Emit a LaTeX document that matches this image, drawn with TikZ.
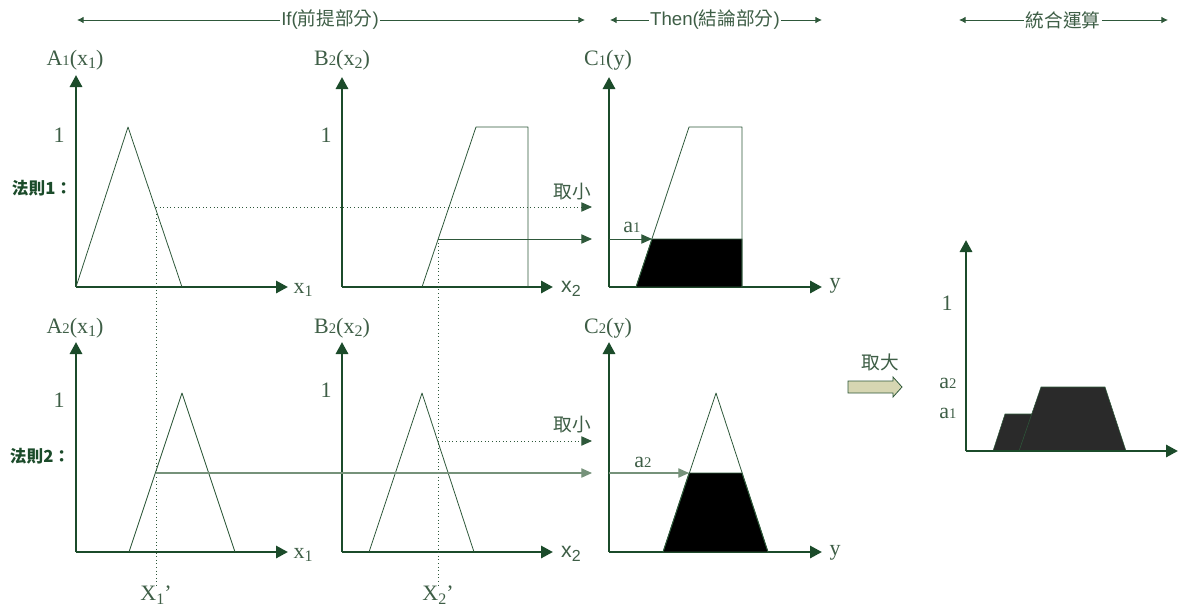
\documentclass[tikz,border=0pt]{standalone}
\usepackage{fontspec}
\setmainfont{Liberation Serif}
\newfontfamily\cjk{Noto Sans CJK TC}
\newfontfamily\arial{Liberation Sans}
\usepackage{tikz}
\usetikzlibrary{arrows.meta,calc}
\definecolor{axisgreen}{RGB}{27,75,42}
\definecolor{txtgreen}{RGB}{62,94,70}
\definecolor{linegreen}{RGB}{46,88,58}
\definecolor{palegreen}{RGB}{118,146,122}
\definecolor{khaki}{RGB}{214,214,178}
\definecolor{darkfill}{RGB}{42,42,42}
\newcommand{\lo}[1]{\raisebox{-.35ex}{\fontsize{12}{12}\selectfont #1}}
\newcommand{\sm}[1]{{\fontsize{11}{11}\selectfont #1}}
\tikzset{
  axis/.style  ={draw=axisgreen, line width=2.2pt, -{Triangle[length=9pt,width=9pt]}},
  mf/.style    ={draw=linegreen, line width=0.6pt, line join=round},
  cut/.style   ={fill=black, draw=linegreen, line width=0.6pt},
  res/.style   ={fill=darkfill, draw=linegreen, line width=0.4pt},
  dotl/.style  ={draw=linegreen, dotted, line width=0.7pt},
  dar/.style   ={dotl, -{Triangle[length=8pt,width=7pt]}},
  ar/.style    ={draw=linegreen, line width=0.7pt, -{Triangle[length=8pt,width=7pt]}},
  par/.style   ={draw=palegreen, line width=0.8pt, -{Triangle[length=8pt,width=7pt]}},
  span/.style  ={draw=linegreen, line width=0.7pt, -{Latex[length=5pt,width=5pt]}},
  lbl/.style   ={text=txtgreen, font=\fontsize{16.5}{18}\selectfont, inner sep=0pt},
  hd/.style    ={text=txtgreen, font=\fontsize{14}{16}\selectfont, inner sep=1pt},
  rulelbl/.style={text=axisgreen, font=\cjk\bfseries\fontsize{12.5}{14}\selectfont, inner sep=0pt},
}
\begin{document}
\begin{tikzpicture}[x=0.75pt,y=-0.75pt]
\useasboundingbox (0,0) rectangle (1180,610);
% headers
\node[hd] (ifhd) at (330,20) {\arial If(\cjk 前提部分\arial )};
\node[hd] (thenhd) at (715,20) {\arial Then(\cjk 結論部分\arial )};
\node[hd] (sumhd) at (1063,20) {\cjk 統合運算};
\coordinate (ifL) at (77,20); \coordinate (ifR) at (585,20);
\coordinate (thenL) at (610,20); \coordinate (thenR) at (822,20);
\coordinate (sumL) at (959,20); \coordinate (sumR) at (1168,20);
\draw[span] (ifhd.west) -- (ifL); \draw[span] (ifhd.east) -- (ifR);
\draw[span] (thenhd.west) -- (thenL); \draw[span] (thenhd.east) -- (thenR);
\draw[span] (sumhd.west) -- (sumL); \draw[span] (sumhd.east) -- (sumR);
% rule labels
\node[rulelbl] (r1) at (42,188) {法則1：};
\node[rulelbl] (r2) at (40,456) {法則2：};
% rule 1 axes
\coordinate (oa1) at (76,287); \coordinate (ob1) at (342,287); \coordinate (oc1) at (609,287);
\draw[axis] (oa1) -- (76,75);  \draw[axis] (oa1) -- (288,287);
\draw[axis] (ob1) -- (342,77); \draw[axis] (ob1) -- (553,287);
\draw[axis] (oc1) -- (609,77); \draw[axis] (oc1) -- (822,287);
\node[lbl] (la1) at (75,60) {A\sm{1}(x\lo{1})};
\node[lbl] (lb1) at (342,60) {B\sm{2}(x\lo{2})};
\node[lbl] (lc1) at (608,60) {C\sm{1}(y)};
\node[lbl] (one1) at (59,135) {1};
\node[lbl] (one2) at (326,135) {1};
\node[lbl] (xa1) at (303,290) {x\lo{1}};
\node[lbl,font=\arial\fontsize{16}{17}\selectfont] (xb1) at (571,289) {x\lo{2}};
\node[lbl] (yc1) at (835,286) {y};
% rule 2 axes
\coordinate (oa2) at (76,552); \coordinate (ob2) at (342,552); \coordinate (oc2) at (609,552);
\draw[axis] (oa2) -- (76,342);  \draw[axis] (oa2) -- (288,552);
\draw[axis] (ob2) -- (342,342); \draw[axis] (ob2) -- (553,552);
\draw[axis] (oc2) -- (609,342); \draw[axis] (oc2) -- (822,552);
\node[lbl] (la2) at (75,328) {A\sm{2}(x\lo{1})};
\node[lbl] (lb2) at (342,328) {B\sm{2}(x\lo{2})};
\node[lbl] (lc2) at (608,328) {C\sm{2}(y)};
\node[lbl] (one3) at (59,400) {1};
\node[lbl] (one4) at (326,390) {1};
\node[lbl] (xa2) at (303,555) {x\lo{1}};
\node[lbl,font=\arial\fontsize{16}{17}\selectfont] (xb2) at (571,554) {x\lo{2}};
\node[lbl] (yc2) at (835,553) {y};
% membership functions
\draw[mf] (76,287) -- (128,127) -- (182,287);
\draw[mf] (422,287) -- (476,127) -- (528,127) -- (528,287);
\draw[cut] (636,287) -- (652,239) -- (742,239) -- (742,287) -- cycle;
\draw[mf] (636,287) -- (689,127) -- (742,127) -- (742,287);
\draw[mf] (129,552) -- (182,393) -- (235,552);
\draw[mf] (369,552) -- (422,393) -- (474,552);
\draw[cut] (663,552) -- (689,473) -- (742,473) -- (768,552) -- cycle;
\draw[mf] (663,552) -- (716,393) -- (768,552);
% inputs and cuts
\coordinate (p1) at (156,207); \coordinate (p1e) at (592,207);
\coordinate (q1) at (438,239); \coordinate (q1e) at (592,239);
\coordinate (p2) at (156,473); \coordinate (p2e) at (592,473);
\coordinate (q2) at (438,441); \coordinate (q2e) at (592,441);
\node[lbl] (x1in) at (156,595) {X\lo{1}'};
\node[lbl] (x2in) at (438,595) {X\lo{2}'};
\draw[dotl] (p1) -- (x1in.north);
\draw[dotl] (q1) -- (x2in.north);
\draw[dar] (p1) -- (p1e);
\draw[ar] (q1) -- (q1e);
\draw[dar] (q2) -- (q2e);
\draw[par] (p2) -- (p2e);
\node[lbl,font=\cjk\fontsize{14}{16}\selectfont] (min1) at (572,192) {取小};
\node[lbl,font=\cjk\fontsize{14}{16}\selectfont] (min2) at (572,425) {取小};
\coordinate (a1s) at (609,239); \coordinate (a1e) at (652,239);
\coordinate (a2s) at (609,473); \coordinate (a2e) at (689,473);
\draw[ar] (a1s) -- (a1e);
\draw[par] (a2s) -- (a2e);
\node[lbl] (la1c) at (632,227) {a\sm{1}};
\node[lbl] (la2c) at (643,462) {a\sm{2}};
% aggregation
\node[lbl,font=\cjk\fontsize{14}{16}\selectfont] (maxl) at (880,362) {取大};
\draw[draw=linegreen, fill=khaki, line width=0.6pt]
  (848,381) -- (893,381) -- (893,377) -- (902,387) -- (893,397) -- (893,393) -- (848,393) -- cycle;
\coordinate (or) at (966,451);
\draw[res] (993,451) -- (1005,414) -- (1032,414) -- (1044,451) -- cycle;
\draw[res] (1019,451) -- (1041,387) -- (1105,387) -- (1126,451) -- cycle;
\draw[axis] (or) -- (966,240); \draw[axis] (or) -- (1178,451);
\node[lbl] (oner) at (947,303) {1};
\node[lbl] (ra2) at (948,383) {a\sm{2}};
\node[lbl] (ra1) at (948,413) {a\sm{1}};
\end{tikzpicture}
\end{document}
